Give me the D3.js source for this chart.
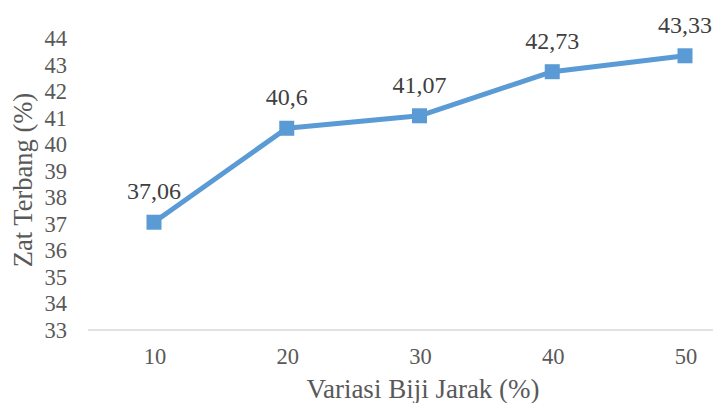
<!DOCTYPE html>
<html><head><meta charset="utf-8">
<script src="https://cdn.jsdelivr.net/npm/d3@7"></script>
<style>body{margin:0;background:#fff;}</style>
</head><body>
<svg id="c" width="713" height="403" font-family="Liberation Serif"></svg>
<script>
const categories = ["10", "20", "30", "40", "50"];
const values = [37.06, 40.6, 41.07, 42.73, 43.33];
const valueLabels = ["37,06", "40,6", "41,07", "42,73", "43,33"];
const yTicks = [33, 34, 35, 36, 37, 38, 39, 40, 41, 42, 43, 44];
const xTitle = "Variasi Biji Jarak (%)";
const yTitle = "Zat Terbang (%)";

const svg = d3.select("#c");
const FONT = "Liberation Serif";
const textColor = "#595959";

const x = d3.scalePoint().domain(categories).range([154, 685]);
const y = d3.scaleLinear().domain([33, 44]).range([330, 38]);

svg.append("line").attr("x1", 88).attr("x2", 713)
  .attr("y1", y(33)).attr("y2", y(33))
  .attr("stroke", "#d9d9d9").attr("stroke-width", 1.5);

svg.selectAll("text.yt").data(yTicks).join("text").attr("class", "yt")
  .attr("x", 67).attr("y", d => y(d) + 8)
  .attr("text-anchor", "end")
  .attr("font-size", 22.5).style("font-family", d => `"${FONT}"`)
  .attr("fill", textColor).text(d => d);

svg.selectAll("text.xt").data(categories).join("text").attr("class", "xt")
  .attr("x", d => x(d) + 1).attr("y", 364)
  .attr("text-anchor", "middle")
  .attr("font-size", 22.5).style("font-family", d => `"${FONT}"`)
  .attr("fill", textColor).text(d => d);

svg.append("text").attr("x", 423).attr("y", 398)
  .attr("text-anchor", "middle")
  .attr("font-size", 27).style("font-family", `"${FONT}"`)
  .attr("fill", textColor).text(xTitle);
svg.append("text").attr("transform", "translate(32,180) rotate(-90)")
  .attr("text-anchor", "middle")
  .attr("font-size", 26.5).style("font-family", `"${FONT}"`)
  .attr("fill", textColor).text(yTitle);

const line = d3.line().x((d, i) => x(categories[i])).y(d => y(d));
svg.append("path").datum(values).attr("d", line)
  .attr("fill", "none").attr("stroke", "#5B9BD5").attr("stroke-width", 5)
  .attr("stroke-linejoin", "round");

const ms = 15;
svg.selectAll("rect.m").data(values).join("rect").attr("class", "m")
  .attr("x", (d, i) => x(categories[i]) - ms / 2).attr("y", d => y(d) - ms / 2)
  .attr("width", ms).attr("height", ms).attr("fill", "#5B9BD5");

svg.selectAll("text.dl").data(values).join("text").attr("class", "dl")
  .attr("x", (d, i) => x(categories[i])).attr("y", d => y(d) - 23)
  .attr("text-anchor", "middle")
  .attr("font-size", 24).style("font-family", d => `"${FONT}"`)
  .attr("fill", "#404040").text((d, i) => valueLabels[i]);
</script>
</body></html>
